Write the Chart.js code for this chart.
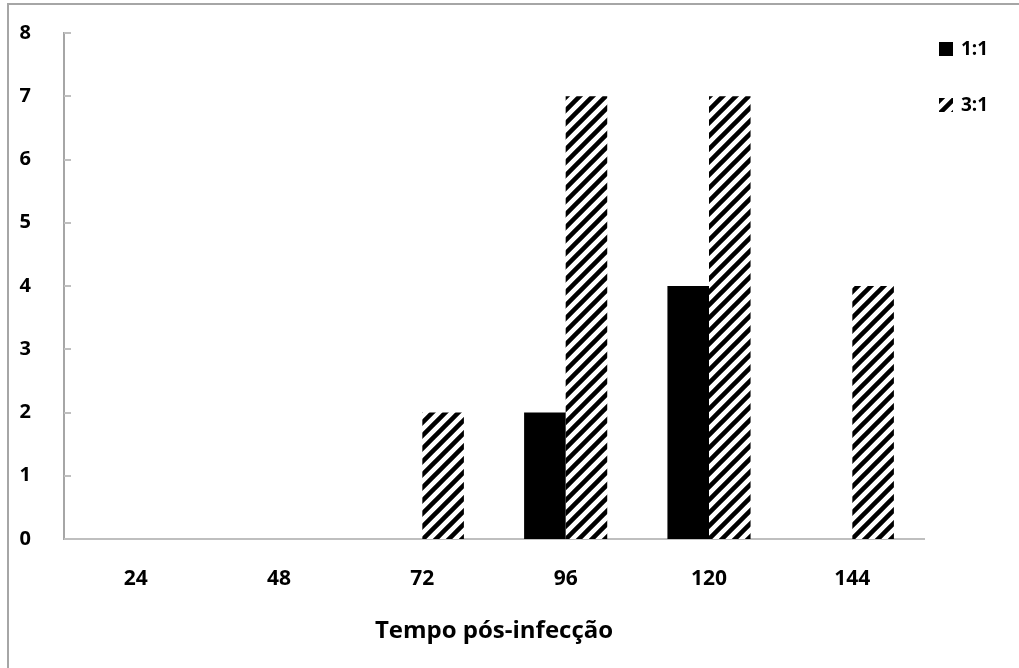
<!DOCTYPE html>
<html>
<head>
<meta charset="utf-8">
<script src="https://cdn.jsdelivr.net/npm/chart.js@4.4.1/dist/chart.umd.min.js"></script>
<style>
html,body{margin:0;padding:0;background:#fff;}
#wrap{position:relative;width:1019px;height:668px;}
</style>
</head>
<body>
<div id="wrap"><canvas id="c" width="1019" height="668"></canvas></div>
<script>
const categories = ['24', '48', '72', '96', '120', '144'];
const series11 = [0, 0, 0, 2, 4, 0];
const series31 = [0, 0, 2, 7, 7, 4];
const seriesLabels = ['1:1', '3:1'];
const xTitle = 'Tempo pós-infecção';

const FONT = "'Open Sans', 'DejaVu Sans', sans-serif";

function makeHatch() {
  const s = 13;
  const c = document.createElement('canvas');
  c.width = s; c.height = s;
  const g = c.getContext('2d');
  g.fillStyle = '#fff';
  g.fillRect(0, 0, s, s);
  g.strokeStyle = '#000';
  g.lineWidth = 4.5;
  g.beginPath();
  g.moveTo(-s, 2 * s); g.lineTo(2 * s, -s);
  g.moveTo(-s, s); g.lineTo(s, -s);
  g.moveTo(0, 2 * s); g.lineTo(2 * s, 0);
  g.stroke();
  return g.createPattern(c, 'repeat');
}
const ctx = document.getElementById('c').getContext('2d');
const hatch = makeHatch();

const framePlugin = {
  id: 'frame',
  beforeDraw(chart) {
    const g = chart.ctx;
    g.save();
    g.fillStyle = '#fff';
    g.fillRect(0, 0, chart.width, chart.height);
    g.strokeStyle = '#a6a6a6';
    g.lineWidth = 2;
    g.beginPath();
    g.moveTo(8, 669); g.lineTo(8, 4); g.lineTo(1020, 4);
    g.stroke();
    g.restore();
  },
  afterDraw(chart) {
    const g = chart.ctx;
    const y = chart.scales.y;
    g.save();
    g.strokeStyle = '#bfbfbf';
    g.lineWidth = 2;
    y.ticks.forEach(t => {
      const py = Math.round(y.getPixelForValue(t.value));
      g.beginPath();
      g.moveTo(y.right, py); g.lineTo(y.right + 7, py);
      g.stroke();
    });
    // legend
    const ds = chart.data.datasets;
    const lx = 939, ly0 = 42, gap = 56, box = 14;
    g.font = "bold 19px " + FONT;
    g.textBaseline = 'middle';
    g.textAlign = 'left';
    ds.forEach((d, i) => {
      const ly = ly0 + i * gap;
      g.fillStyle = d.backgroundColor;
      g.fillRect(lx, ly, box, box);
      g.fillStyle = '#000';
      g.fillText(d.label, lx + 22, ly + box / 2 + 1);
    });
    g.restore();
  }
};

new Chart(ctx, {
  type: 'bar',
  data: {
    labels: categories,
    datasets: [
      { label: seriesLabels[0], data: series11, backgroundColor: '#000', borderWidth: 0 },
      { label: seriesLabels[1], data: series31, backgroundColor: hatch, borderWidth: 0 }
    ]
  },
  options: {
    responsive: false,
    animation: false,
    devicePixelRatio: 1,
    layout: { padding: { left: 0, top: 33, right: 95, bottom: 0 } },
    datasets: { bar: { categoryPercentage: 0.58, barPercentage: 1.0 } },
    plugins: { legend: { display: false }, tooltip: { enabled: false } },
    scales: {
      x: {
        grid: { display: false },
        border: { display: true, color: '#bfbfbf', width: 2 },
        ticks: { color: '#000', font: { family: FONT, size: 21, weight: 'bold' }, padding: 19, maxRotation: 0 },
        title: { display: true, text: xTitle, color: '#000', font: { family: FONT, size: 24, weight: 'bold' }, padding: { top: 0, bottom: 22 } },
        afterFit(s) { s.height = 129; s.paddingLeft = 0; s.paddingRight = 0; }
      },
      y: {
        min: 0, max: 8,
        grid: { display: false },
        border: { display: true, color: '#a6a6a6', width: 2 },
        ticks: { stepSize: 1, color: '#000', font: { family: FONT, size: 20, weight: 'bold' }, padding: 25 },
        afterFit(s) { s.width = 64; s.paddingTop = 0; s.paddingBottom = 0; }
      }
    }
  },
  plugins: [framePlugin]
});
</script>
</body>
</html>
